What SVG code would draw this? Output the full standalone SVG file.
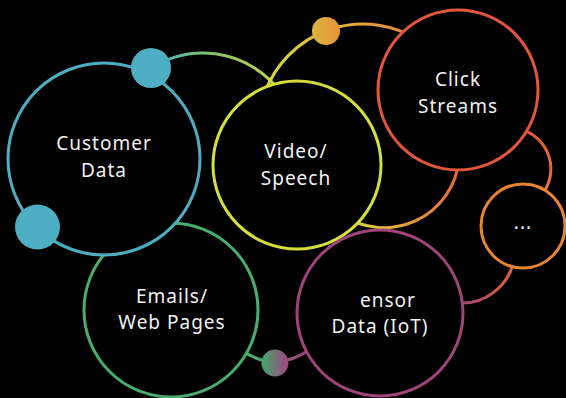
<svg xmlns="http://www.w3.org/2000/svg" width="566" height="398" viewBox="0 0 566 398">
  <defs>
    <linearGradient id="gGreenArc" gradientUnits="userSpaceOnUse" x1="150" y1="0" x2="280" y2="0">
      <stop offset="0" stop-color="#4BAEC1"/>
      <stop offset="0.5" stop-color="#86C466"/>
      <stop offset="1" stop-color="#CAD946"/>
    </linearGradient>
    <linearGradient id="gTopArc" gradientUnits="userSpaceOnUse" x1="265" y1="0" x2="420" y2="0">
      <stop offset="0" stop-color="#D6DE3D"/>
      <stop offset="0.45" stop-color="#E2B23C"/>
      <stop offset="1" stop-color="#E8823A"/>
    </linearGradient>
    <linearGradient id="gBotArc" gradientUnits="userSpaceOnUse" x1="345" y1="0" x2="460" y2="0">
      <stop offset="0" stop-color="#D6DE3D"/>
      <stop offset="0.5" stop-color="#E5A53B"/>
      <stop offset="1" stop-color="#E5683A"/>
    </linearGradient>
    <linearGradient id="gRightArc" gradientUnits="userSpaceOnUse" x1="0" y1="130" x2="0" y2="195">
      <stop offset="0" stop-color="#E2573A"/>
      <stop offset="1" stop-color="#E8782F"/>
    </linearGradient>
    <linearGradient id="gLowRightArc" gradientUnits="userSpaceOnUse" x1="515" y1="0" x2="458" y2="0">
      <stop offset="0" stop-color="#E0652F"/>
      <stop offset="1" stop-color="#A0457B"/>
    </linearGradient>
    <linearGradient id="gBottomArc" gradientUnits="userSpaceOnUse" x1="255" y1="0" x2="300" y2="0">
      <stop offset="0" stop-color="#47AE6E"/>
      <stop offset="1" stop-color="#A0457B"/>
    </linearGradient>
    <linearGradient id="gGoldDot" x1="0" y1="0" x2="1" y2="0">
      <stop offset="0" stop-color="#DDB63F"/>
      <stop offset="1" stop-color="#E5923A"/>
    </linearGradient>
    <linearGradient id="gMixDot" x1="0" y1="0" x2="1" y2="0">
      <stop offset="0" stop-color="#3FA86C"/>
      <stop offset="1" stop-color="#A4437E"/>
    </linearGradient>
  </defs>
  <style>
    .ring { fill: #000; stroke-width: 3; }
    .arc { fill: none; stroke-width: 3; }
    .lbl { fill: #F2F2F2; font-family: "Noto Sans", "Open Sans", sans-serif; font-size: 19px; letter-spacing: 1px; text-anchor: middle; }
  </style>
  <rect x="0" y="0" width="566" height="398" fill="#000"/>

  <g id="connectors">
    <path class="arc" stroke="url(#gGreenArc)" d="M140.6,75.6 A96.8,96.8 0 0 1 282.1,94.3"/>
    <path class="arc" stroke="url(#gTopArc)" d="M264.7,93 A104.6,104.6 0 0 1 420,41"/>
    <path class="arc" stroke="url(#gBotArc)" d="M341,214 A75,75 0 0 0 459,159"/>
    <path class="arc" stroke="url(#gRightArc)" d="M520.9,129.4 A41,41 0 0 1 541.5,195"/>
    <path class="arc" stroke="url(#gLowRightArc)" d="M514.4,255 A52.6,52.6 0 0 1 452.9,302.2"/>
    <path class="arc" stroke="url(#gBottomArc)" d="M240,349 Q275,375 312,348"/>
  </g>

  <g id="emails">
    <circle class="ring" cx="171" cy="310" r="87" stroke="#47AE6E"/>
    <text class="lbl" x="172" y="303">Emails/</text>
    <text class="lbl" x="172" y="329">Web Pages</text>
  </g>

  <g id="customer">
    <circle class="ring" cx="104" cy="159" r="96" stroke="#4BAEC1"/>
    <text class="lbl" x="104" y="150">Customer</text>
    <text class="lbl" x="104" y="177">Data</text>
  </g>

  <g id="video">
    <circle class="ring" cx="297" cy="165" r="84" stroke="#D6DE3D"/>
    <text class="lbl" x="296" y="158">Video/</text>
    <text class="lbl" x="296" y="185">Speech</text>
  </g>

  <g id="click">
    <circle class="ring" cx="458" cy="90" r="80" stroke="#E2573A"/>
    <text class="lbl" x="458" y="86">Click</text>
    <text class="lbl" x="458" y="113">Streams</text>
  </g>

  <g id="more">
    <circle class="ring" cx="523" cy="226" r="42" stroke="#E8852F"/>
    <text class="lbl" x="523" y="229">...</text>
  </g>

  <g id="sensor">
    <circle class="ring" cx="380" cy="313" r="83" stroke="#A0457B"/>
    <text class="lbl" x="360" y="307" style="text-anchor:start">ensor</text>
    <text class="lbl" x="380" y="333">Data (IoT)</text>
  </g>

  <g id="dots">
    <circle cx="151" cy="68" r="20" fill="#4FAFC2"/>
    <circle cx="37.5" cy="227" r="22.5" fill="#4FAFC2"/>
    <circle cx="326" cy="31" r="14" fill="url(#gGoldDot)"/>
    <circle cx="275" cy="363" r="13.5" fill="url(#gMixDot)"/>
  </g>
</svg>
